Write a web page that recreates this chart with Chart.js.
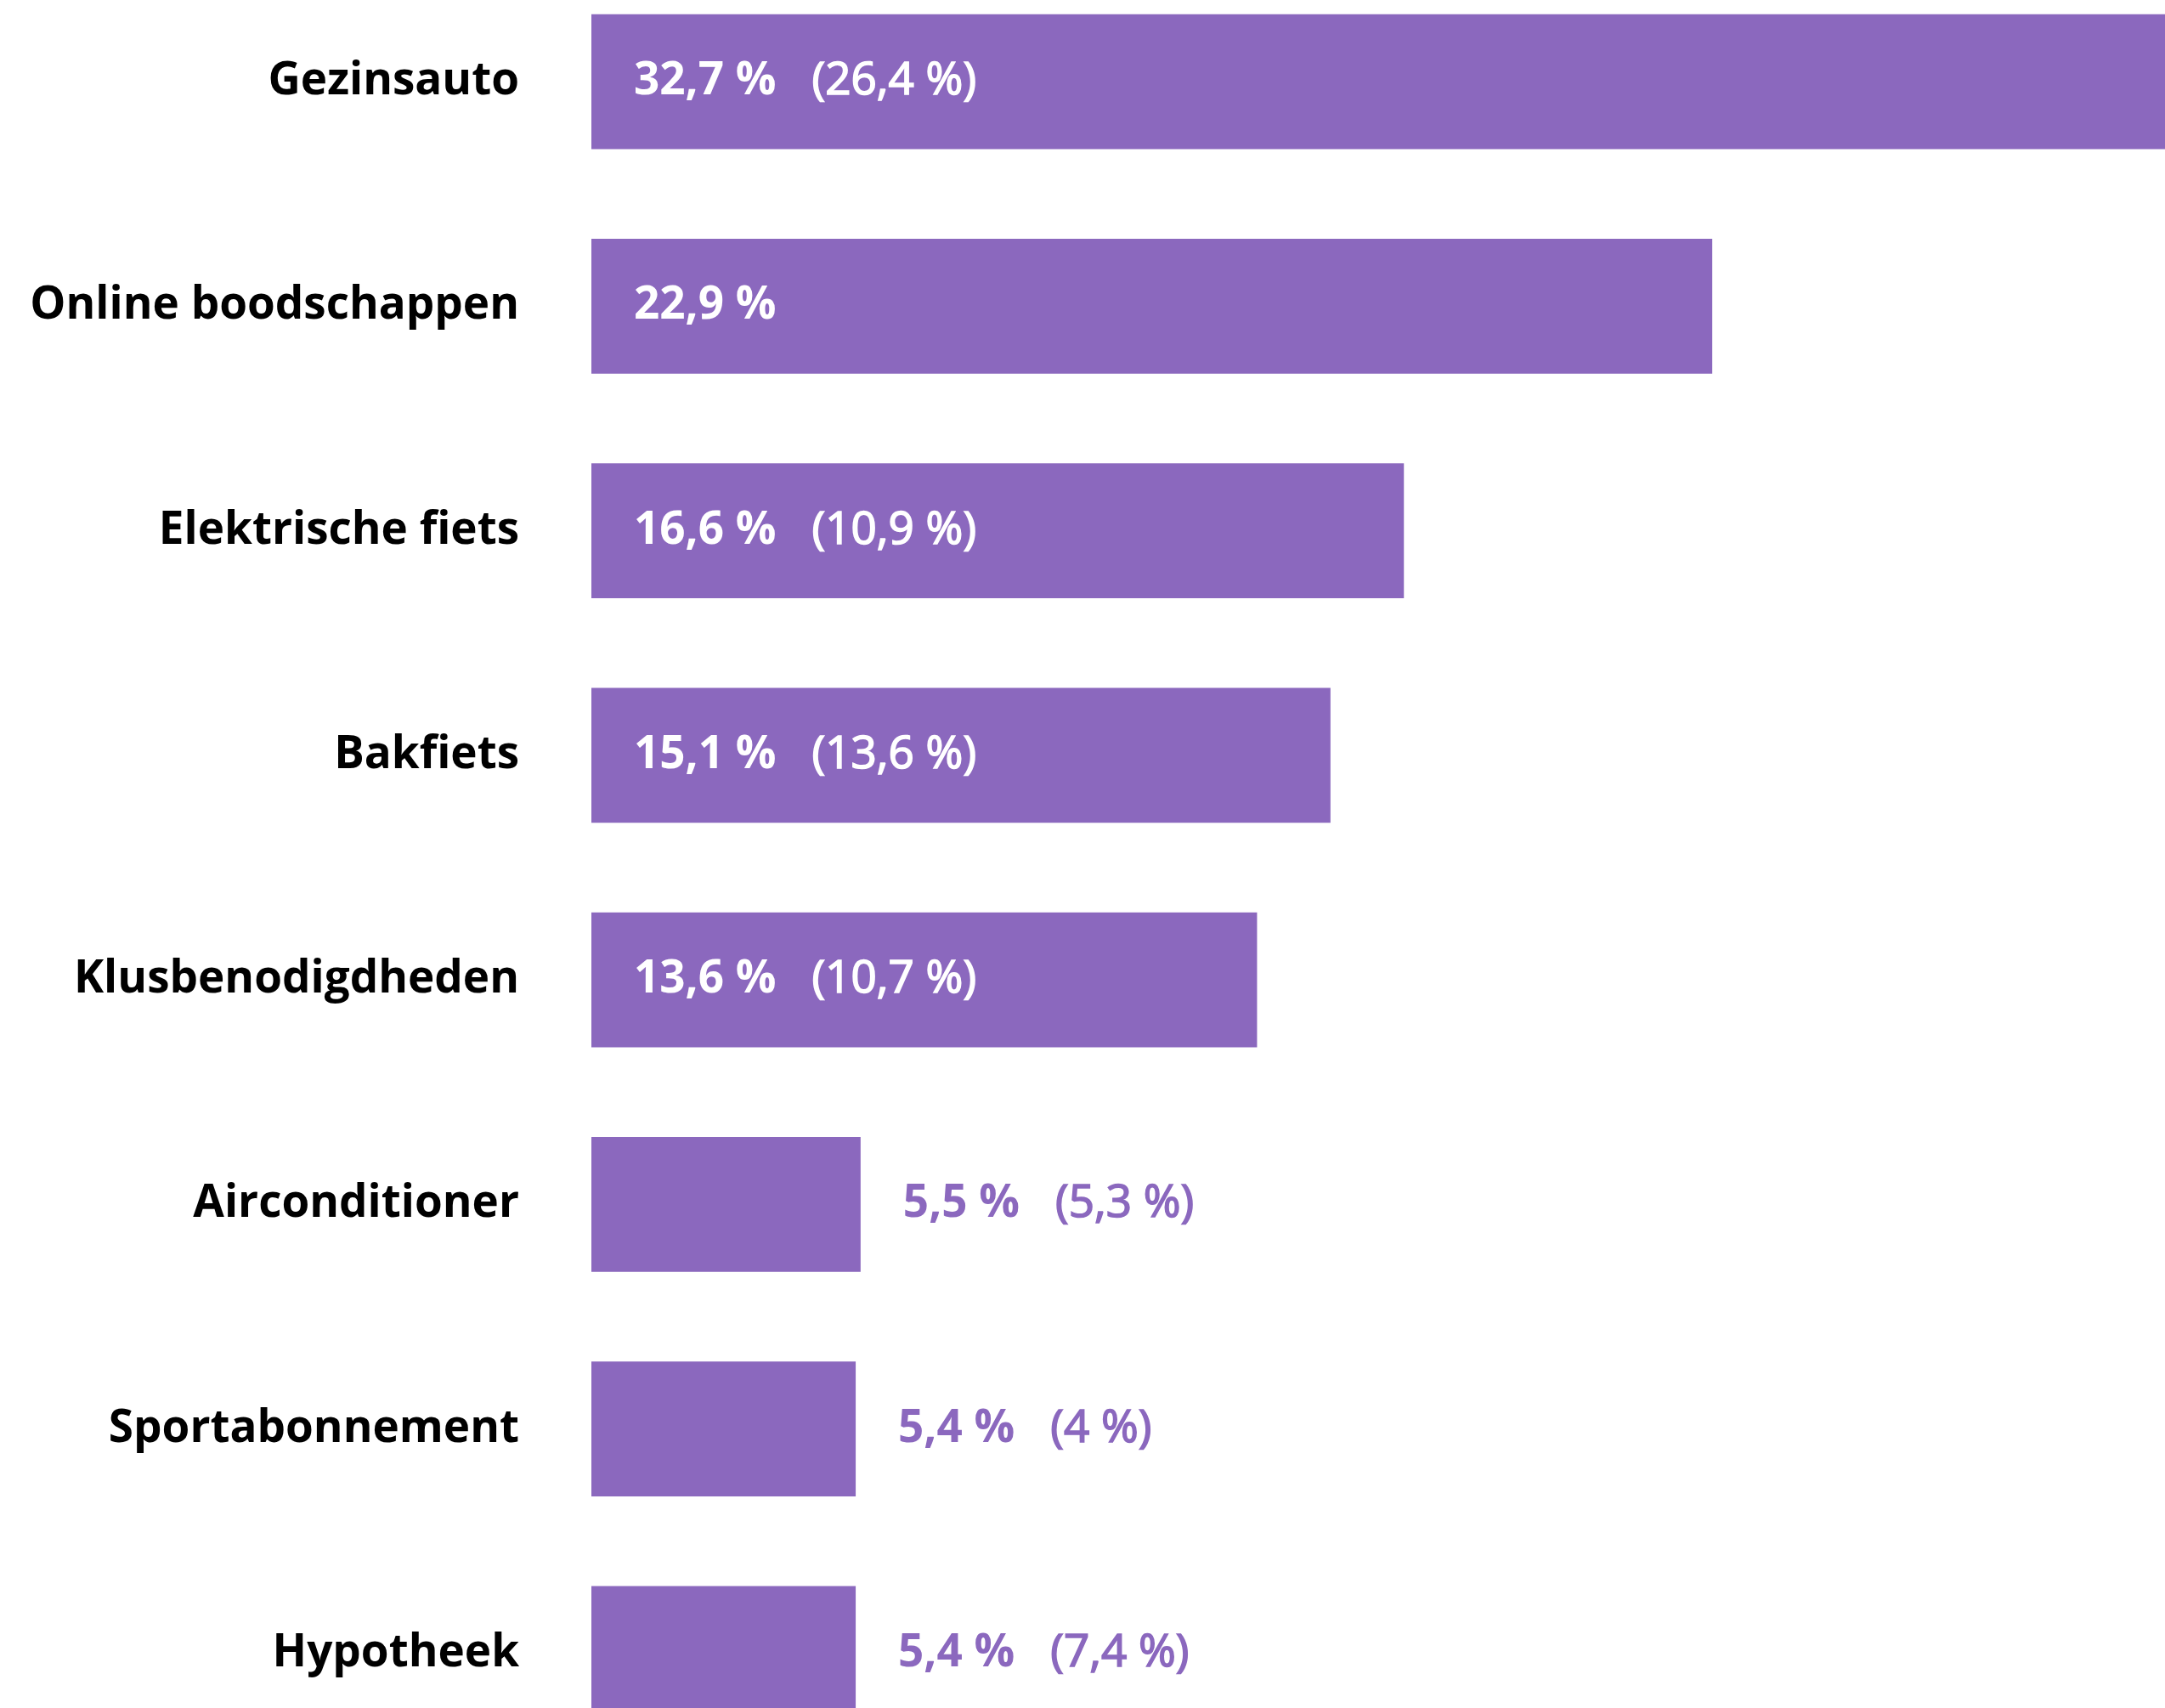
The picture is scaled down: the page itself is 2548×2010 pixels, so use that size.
<!DOCTYPE html>
<html>

<head>
    <title>Uitgaven</title>
    <script src="https://cdn.jsdelivr.net/npm/chart.js@4"></script>
    <style>
        html, body {
            margin: 0;
            padding: 0;
            background: #ffffff;
            overflow: hidden;
            width: 2548px;
            height: 2010px;
        }

        .chart-box {
            position: absolute;
            left: 0;
            top: -36px;
            width: 2548px;
            height: 2114px;
        }
    </style>
</head>

<body>
    <div class="chart-box">
        <canvas id="myChart"></canvas>
    </div>

    <script>
        const categories = ['Gezinsauto', 'Online boodschappen', 'Elektrische fiets', 'Bakfiets',
            'Klusbenodigdheden', 'Airconditioner', 'Sportabonnement', 'Hypotheek'];
        const currentValues = [32.7, 22.9, 16.6, 15.1, 13.6, 5.5, 5.4, 5.4];
        const previousValues = [26.4, null, 10.9, 13.6, 10.7, 5.3, 4, 7.4];

        const purple = '#8b68be';
        const fmt = v => String(v).replace('.', ',') + ' %';

        // labels inside the bar (white) or just behind it (purple)
        const valueLabels = {
            id: 'valueLabels',
            afterDatasetsDraw(chart) {
                const ctx = chart.ctx;
                const meta = chart.getDatasetMeta(0);
                ctx.save();
                ctx.textBaseline = 'middle';
                ctx.textAlign = 'left';
                meta.data.forEach((bar, i) => {
                    const inside = currentValues[i] > 10;
                    let x = inside ? bar.base + 50 : bar.x + 50;
                    const y = bar.y;
                    const col = inside ? '#ffffff' : purple;
                    ctx.fillStyle = col;
                    ctx.font = 'bold 53px "Open Sans"';
                    const main = fmt(currentValues[i]);
                    ctx.fillText(main, x, y);
                    if (previousValues[i] !== null) {
                        x += ctx.measureText(main).width + 42;
                        const prev = '(' + fmt(previousValues[i]) + ')';
                        ctx.font = '53px "Open Sans"';
                        ctx.fillText(prev, x, y);
                        // a touch heavier, like a medium weight
                        ctx.strokeStyle = col;
                        ctx.lineWidth = 1.6;
                        ctx.strokeText(prev, x, y);
                    }
                });
                ctx.restore();
            }
        };

        document.fonts.load('bold 53px "Open Sans"').then(() => document.fonts.load('53px "Open Sans"')).then(() => {
            const ctx = document.getElementById('myChart').getContext('2d');
            new Chart(ctx, {
                type: 'bar',
                data: {
                    labels: categories,
                    datasets: [{
                        data: currentValues,
                        backgroundColor: purple,
                        borderWidth: 0,
                        categoryPercentage: 1,
                        barPercentage: 0.6
                    }]
                },
                options: {
                    indexAxis: 'y',
                    responsive: true,
                    maintainAspectRatio: false,
                    animation: false,
                    layout: { padding: 0 },
                    plugins: {
                        legend: { display: false },
                        tooltip: { enabled: false }
                    },
                    scales: {
                        x: {
                            display: false,
                            min: 0,
                            max: 32.15
                        },
                        y: {
                            border: { display: false },
                            grid: { display: false, drawTicks: false },
                            ticks: {
                                color: '#000000',
                                padding: 85,
                                font: { family: 'Open Sans', weight: 'bold', size: 53 }
                            },
                            afterFit: s => {
                                s.width = 696;
                                s.paddingTop = 0;
                                s.paddingBottom = 0;
                            }
                        }
                    }
                },
                plugins: [valueLabels]
            });
        });
    </script>
</body>

</html>
